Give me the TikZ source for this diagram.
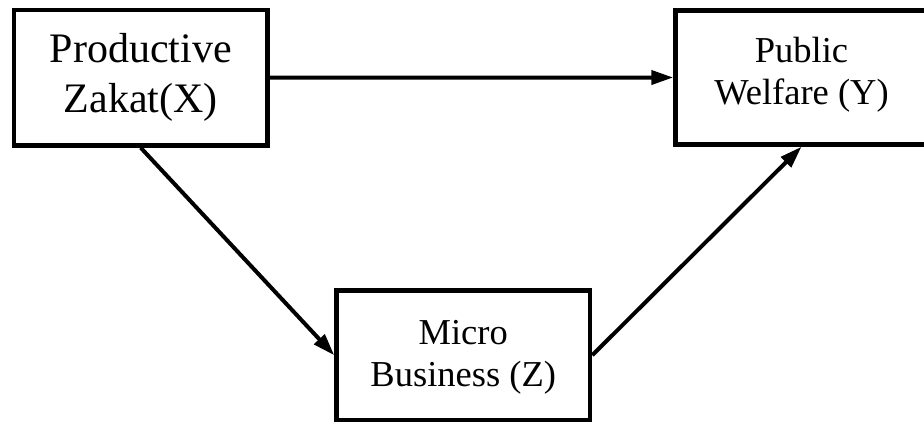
\documentclass[tikz,border=0pt]{standalone}
\usepackage{fontspec}
\setmainfont{Liberation Serif}
\usetikzlibrary{arrows.meta}
\begin{document}
\begin{tikzpicture}[x=1pt,y=1pt,
  box/.style={draw, rectangle, line width=4.5pt, inner sep=0pt},
  bigtext/.style={font=\fontsize{42}{50}\selectfont, align=center, inner sep=0pt},
  smalltext/.style={font=\fontsize{36.5}{42.5}\selectfont, align=center, inner sep=0pt},
  link/.style={line width=4pt, -{Triangle[length=22pt,width=14pt]}}]
  \useasboundingbox (0,0) rectangle (924,423);
  \clip (0,0) rectangle (924,423);

  % variables
  \node[box, minimum width=253.5pt, minimum height=135.5pt,
        label={[bigtext]center:{Productive\\Zakat(X)}}]
    (X) at (140.75,345.25) {};
  \node[box, minimum width=252pt, minimum height=134pt,
        label={[smalltext, yshift=3pt]center:{Public\\Welfare (Y)}}]
    (Y) at (801.5,345.5) {};
  \node[box, minimum width=253.5pt, minimum height=129.5pt,
        label={[smalltext, yshift=-2pt]center:{Micro\\Business (Z)}}]
    (Z) at (463.25,67.75) {};

  % paths
  \draw[link] (X.east) -- (Y.west);
  \draw[link] (X.south) -- (Z.west);
  \draw[link] (Z.east) -- (Y.south);
\end{tikzpicture}
\end{document}
